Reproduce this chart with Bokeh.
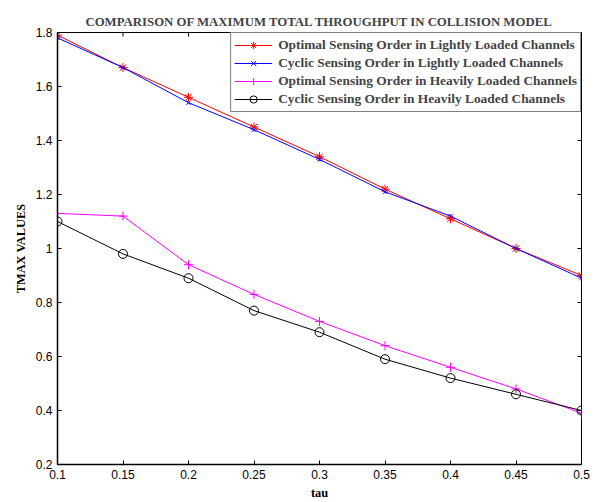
import math
from bokeh.plotting import figure
from bokeh.models import Range1d, FixedTicker, Legend, LegendItem
from bokeh.embed import file_html
from bokeh.resources import INLINE

tau = [0.1, 0.15, 0.2, 0.25, 0.3, 0.35, 0.4, 0.45, 0.5]
opt_light = [1.79, 1.67, 1.56, 1.45, 1.34, 1.22, 1.11, 1.00, 0.90]
cyc_light = [1.78, 1.67, 1.54, 1.44, 1.33, 1.21, 1.12, 1.00, 0.89]
opt_heavy = [1.13, 1.12, 0.94, 0.83, 0.73, 0.64, 0.56, 0.48, 0.39]
cyc_heavy = [1.10, 0.98, 0.89, 0.77, 0.69, 0.59, 0.52, 0.46, 0.40]

x_ticks = [0.1, 0.15, 0.2, 0.25, 0.3, 0.35, 0.4, 0.45, 0.5]
x_tick_labels = ["0.1", "0.15", "0.2", "0.25", "0.3", "0.35", "0.4", "0.45", "0.5"]
y_ticks = [0.2, 0.4, 0.6, 0.8, 1.0, 1.2, 1.4, 1.6, 1.8]
y_tick_labels = ["0.2", "0.4", "0.6", "0.8", "1", "1.2", "1.4", "1.6", "1.8"]

series_names = [
    "Optimal Sensing Order in Lightly Loaded Channels",
    "Cyclic Sensing Order in Lightly Loaded Channels",
    "Optimal Sensing Order in Heavily Loaded Channels",
    "Cyclic Sensing Order in Heavily Loaded Channels",
]

SERIF = "Liberation Serif"
SANS = "Liberation Sans"

x_min, x_max = x_ticks[0], x_ticks[-1]
y_min, y_max = y_ticks[0], y_ticks[-1]

p = figure(width=595, height=502, output_backend="svg", toolbar_location=None,
           x_range=Range1d(x_min, x_max), y_range=Range1d(y_min, y_max),
           min_border_left=57, min_border_right=14, min_border_top=32, min_border_bottom=34)
p.xgrid.visible = False
p.ygrid.visible = False
p.outline_line_color = "black"
p.outline_line_width = 1
p.background_fill_color = "white"
p.border_fill_color = "white"

p.title.text = "COMPARISON OF MAXIMUM TOTAL THROUGHPUT IN COLLISION MODEL"
p.title.text_font = SERIF
p.title.text_font_style = "bold"
p.title.text_font_size = "12.8px"
p.title.align = "center"
p.title.standoff = 8

for ax, ticks, labels in ((p.xaxis[0], x_ticks, x_tick_labels), (p.yaxis[0], y_ticks, y_tick_labels)):
    ax.ticker = FixedTicker(ticks=ticks)
    ax.major_label_overrides = {t: l for t, l in zip(ticks, labels)}
    ax.major_tick_in = 4
    ax.major_tick_out = 0
    ax.minor_tick_in = 0
    ax.minor_tick_out = 0
    ax.major_label_text_font = SANS
    ax.major_label_text_font_size = "12px"
    ax.major_label_text_color = "black"
    ax.axis_line_color = "black"
    ax.axis_line_width = 1.5
    ax.axis_label_text_font = SERIF
    ax.axis_label_text_font_style = "bold"
    ax.axis_label_text_font_size = "12.4px"
    ax.axis_label_text_color = "black"

p.xaxis[0].axis_label = "tau"
p.xaxis[0].major_label_standoff = 5
p.xaxis[0].axis_label_standoff = 4
p.yaxis[0].axis_label = "TMAX VALUES"
p.yaxis[0].major_label_standoff = 5
p.yaxis[0].axis_label_standoff = 5

# inward ticks on the top and right edges of the box
p.scatter(x_ticks, [y_max] * len(x_ticks), marker="dash", size=8, angle=math.pi / 2,
          line_color="black", line_width=1)
p.scatter([x_max] * len(y_ticks), y_ticks, marker="dash", size=8,
          line_color="black", line_width=1)

r1l = p.line(tau, opt_light, line_color="#ff0000", line_width=1)
r1m = p.scatter(tau, opt_light, marker="asterisk", size=9, line_color="#ff0000", line_width=1)
r2l = p.line(tau, cyc_light, line_color="#0000ff", line_width=1)
r2m = p.scatter(tau, cyc_light, marker="x", size=6, line_color="#0000ff", line_width=1)
r3l = p.line(tau, opt_heavy, line_color="#ff00ff", line_width=1)
r3m = p.scatter(tau, opt_heavy, marker="cross", size=9, line_color="#ff00ff", line_width=1)
r4l = p.line(tau, cyc_heavy, line_color="black", line_width=1)
r4m = p.scatter(tau, cyc_heavy, marker="circle", size=9, line_color="black",
                fill_color=None, line_width=1)

items = [LegendItem(label=series_names[0], renderers=[r1l, r1m]),
         LegendItem(label=series_names[1], renderers=[r2l, r2m]),
         LegendItem(label=series_names[2], renderers=[r3l, r3m]),
         LegendItem(label=series_names[3], renderers=[r4l, r4m])]
legend = Legend(items=items, location="top_right", margin=0, padding=3, spacing=0,
                label_text_font=SERIF, label_text_font_style="bold",
                label_text_font_size="13.4px", label_height=18, glyph_height=18,
                glyph_width=38, label_standoff=6,
                border_line_color="black", border_line_width=1.2,
                background_fill_alpha=1.0)
p.add_layout(legend)

open("out.html", "w").write(file_html(p, INLINE))
